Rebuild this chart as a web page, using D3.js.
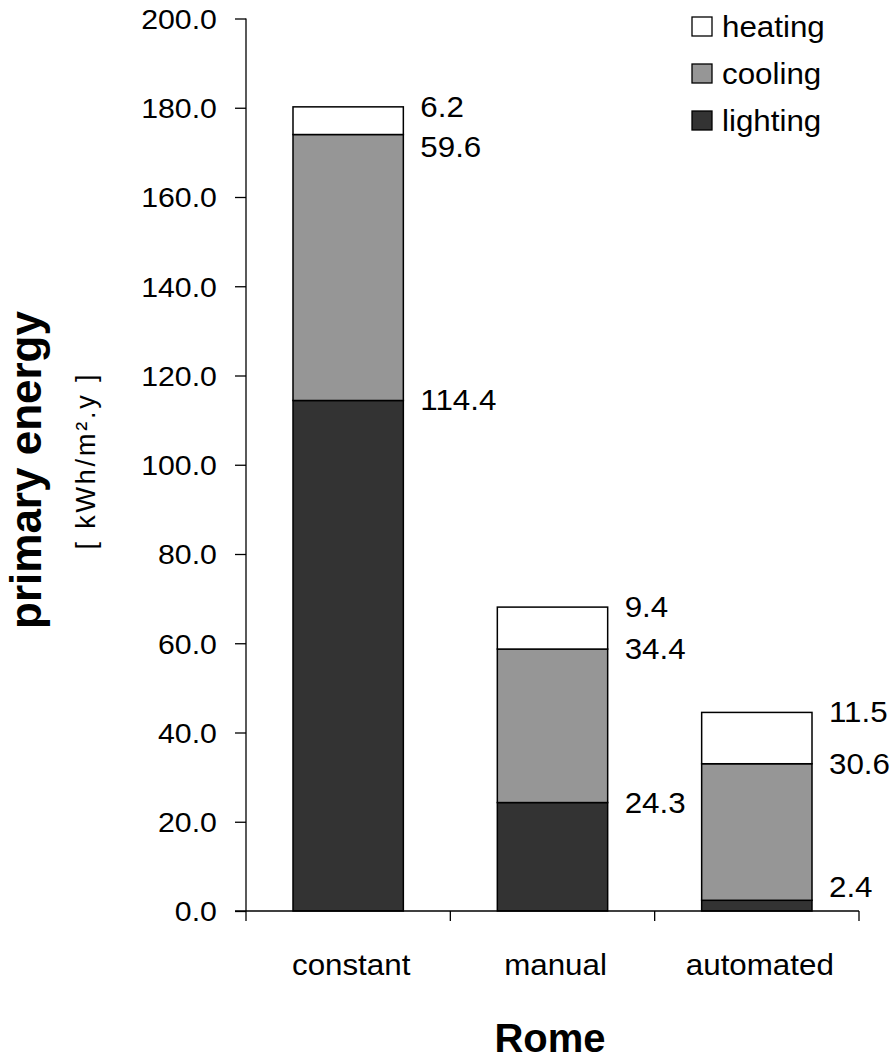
<!DOCTYPE html>
<html>
<head>
<meta charset="utf-8">
<script src="https://cdn.jsdelivr.net/npm/d3@7"></script>
<style>
  html, body { margin: 0; padding: 0; background: #fff; }
  svg { display: block; }
  text { font-family: "Liberation Sans", Arial, Helvetica, sans-serif; fill: #000; }
</style>
</head>
<body>
<svg id="chart" width="896" height="1060"></svg>
<script>
// Primary energy demand for Rome by shading-control strategy [kWh/m²·y]
const categories = ["constant", "manual", "automated"];
const seriesNames = ["lighting", "cooling", "heating"];
const lighting = [114.4, 24.3, 2.4];
const cooling = [59.6, 34.4, 30.6];
const heating = [6.2, 9.4, 11.5];
const yTicks = [0, 20, 40, 60, 80, 100, 120, 140, 160, 180, 200];
const legendOrder = ["heating", "cooling", "lighting"];

const colors = { lighting: "#333333", cooling: "#969696", heating: "#ffffff" };

// Horizontal text stretch used for all horizontal labels
const SX = 1.08;

const rows = categories.map((c, i) => ({
  category: c, lighting: lighting[i], cooling: cooling[i], heating: heating[i]
}));

const svg = d3.select("#chart");

function label(parent, px, py, str, size, anchor) {
  return parent.append("text")
    .attr("transform", `translate(${px},${py}) scale(${SX},1)`)
    .attr("text-anchor", anchor || "start")
    .attr("font-size", size)
    .text(str);
}

const x = d3.scaleBand()
  .domain(categories)
  .range([246, 859])
  .paddingInner(0.46)
  .paddingOuter(0.23);

const y = d3.scaleLinear().domain([0, 200]).range([911, 18.5]);

const stack = d3.stack().keys(seriesNames);
const layers = stack(rows);

// Bars
const g = svg.append("g");
layers.forEach(layer => {
  g.selectAll(null)
    .data(layer)
    .join("rect")
    .attr("x", d => x(d.data.category))
    .attr("y", d => y(d[1]))
    .attr("width", x.bandwidth())
    .attr("height", d => y(d[0]) - y(d[1]))
    .attr("fill", colors[layer.key])
    .attr("stroke", "#000")
    .attr("stroke-width", 1.5);
});

// Y axis
const yAxis = d3.axisLeft(y)
  .tickValues(yTicks)
  .tickFormat(d3.format(".1f"))
  .tickSize(11)
  .tickPadding(16);
const ya = svg.append("g").attr("transform", "translate(246,0)").call(yAxis);
ya.select(".domain").attr("stroke", "#000").attr("stroke-width", 1.3)
  .attr("d", `M0,${y(200)}V${y(0) + 10}`);
ya.selectAll(".tick line").attr("stroke", "#000").attr("stroke-width", 1.3);
ya.selectAll(".tick text")
  .attr("font-size", 28)
  .attr("font-family", null)
  .attr("dy", "0.35em")
  .attr("transform", `scale(${SX},1)`);

// X axis: baseline plus tick marks at the category boundaries
const step = x.step();
const gap = step - x.bandwidth();
const bounds = categories.map(c => x(c) - gap / 2)
  .concat([x(categories[categories.length - 1]) + x.bandwidth() + gap / 2]);
svg.append("line")
  .attr("x1", 235).attr("x2", bounds[bounds.length - 1])
  .attr("y1", y(0)).attr("y2", y(0))
  .attr("stroke", "#000").attr("stroke-width", 1.3);
svg.selectAll(null).data(bounds.slice(1)).join("line")
  .attr("x1", d => d).attr("x2", d => d)
  .attr("y1", y(0)).attr("y2", y(0) + 10)
  .attr("stroke", "#000").attr("stroke-width", 1.3);

categories.forEach(c => {
  label(svg, x(c) + x.bandwidth() / 2 + 3, 975, c, 29, "middle");
});

// Value labels to the right of each segment, nudged apart where they would collide
rows.forEach((r, i) => {
  const keys = ["heating", "cooling", "lighting"];
  let prev = -Infinity;
  const tops = keys.map(k => {
    const layer = layers.find(l => l.key === k);
    return { key: k, v: r[k], top: y(layer[i][1]) };
  });
  tops.forEach(t => {
    let ly = Math.max(t.top, prev + 40);
    ly = Math.min(ly, y(0) - 24);
    t.ly = ly;
    prev = ly;
  });
  tops.forEach(t => {
    label(svg, x(r.category) + x.bandwidth() + 17, t.ly + 10, d3.format(".1f")(t.v), 29);
  });
});

// Legend
const legend = svg.append("g").attr("transform", "translate(692,17)");
legendOrder.forEach((k, i) => {
  const row = legend.append("g").attr("transform", `translate(0,${i * 47})`);
  row.append("rect")
    .attr("x", 0).attr("y", 0).attr("width", 20).attr("height", 19)
    .attr("fill", colors[k]).attr("stroke", "#000").attr("stroke-width", 1.3);
  label(row, 30, 20, k, 29);
});

// Axis titles
svg.append("text")
  .attr("transform", "translate(41,470) rotate(-90)")
  .attr("text-anchor", "middle")
  .attr("font-size", 44)
  .attr("font-weight", "bold")
  .text("primary energy");
svg.append("text")
  .attr("transform", "translate(95,462) rotate(-90)")
  .attr("text-anchor", "middle")
  .attr("font-size", 27)
  .attr("textLength", 175)
  .attr("lengthAdjust", "spacing")
  .text("[ kWh/m².y ]");
svg.append("text")
  .attr("x", 550).attr("y", 1052)
  .attr("text-anchor", "middle")
  .attr("font-size", 40)
  .attr("font-weight", "bold")
  .text("Rome");
</script>
</body>
</html>
